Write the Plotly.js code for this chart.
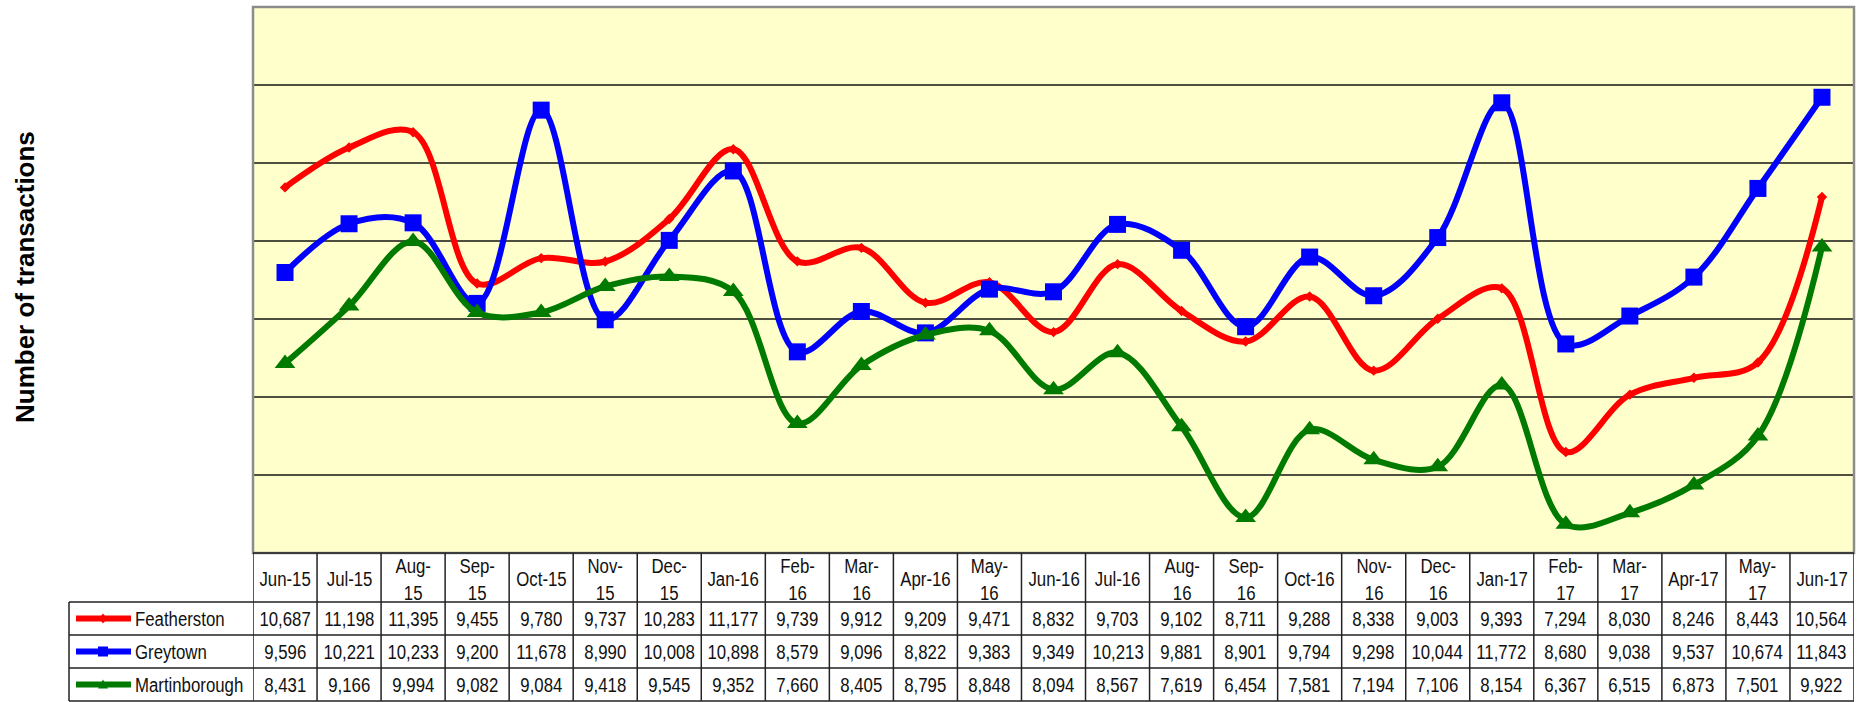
<!DOCTYPE html>
<html>
<head>
<meta charset="utf-8">
<script src="https://cdn.plot.ly/plotly-3.0.1.min.js"></script>
<style>html,body{margin:0;padding:0;background:#fff;}#chart{width:1861px;height:702px;}</style>
</head>
<body>
<div id="chart"></div>
<script>
// ---- data ----
const months = ["Jun-15","Jul-15","Aug-15","Sep-15","Oct-15","Nov-15","Dec-15","Jan-16","Feb-16","Mar-16","Apr-16","May-16","Jun-16","Jul-16","Aug-16","Sep-16","Oct-16","Nov-16","Dec-16","Jan-17","Feb-17","Mar-17","Apr-17","May-17","Jun-17"];
const headerLabels = ["Jun-15","Jul-15","Aug-<br>15","Sep-<br>15","Oct-15","Nov-<br>15","Dec-<br>15","Jan-16","Feb-<br>16","Mar-<br>16","Apr-16","May-<br>16","Jun-16","Jul-16","Aug-<br>16","Sep-<br>16","Oct-16","Nov-<br>16","Dec-<br>16","Jan-17","Feb-<br>17","Mar-<br>17","Apr-17","May-<br>17","Jun-17"];
const featherston = [10687,11198,11395,9455,9780,9737,10283,11177,9739,9912,9209,9471,8832,9703,9102,8711,9288,8338,9003,9393,7294,8030,8246,8443,10564];
const greytown = [9596,10221,10233,9200,11678,8990,10008,10898,8579,9096,8822,9383,9349,10213,9881,8901,9794,9298,10044,11772,8680,9038,9537,10674,11843];
const martinborough = [8431,9166,9994,9082,9084,9418,9545,9352,7660,8405,8795,8848,8094,8567,7619,6454,7581,7194,7106,8154,6367,6515,6873,7501,9922];
const seriesNames = ["Featherston","Greytown","Martinborough"];
const yTitle = "Number of transactions";

// ---- layout geometry (pixels) ----
const W = 1861, H = 702;
const L = 253, R = 1854, T = 7, B = 553;
const rowLines = [602, 635, 668, 701];
const legendLeft = 69;
const px = p => (p - L) / (R - L);
const py = p => (B - p) / (B - T);

const colors = ["#ff0000", "#0000ff", "#007a00"];
const symbols = ["diamond", "square", "triangle-up"];
const msizes = [8, 17, 18];
const allSeries = [featherston, greytown, martinborough];
const xIdx = months.map((m, i) => i);

const traces = allSeries.map((vals, s) => ({
  type: "scatter", mode: "lines+markers",
  x: xIdx, y: vals, name: seriesNames[s],
  line: {color: colors[s], width: 6, shape: "spline", smoothing: 1},
  marker: {color: colors[s], symbol: symbols[s], size: msizes[s]},
  hoverinfo: "skip", showlegend: false, cliponaxis: false
}));

const tfont = {family: "Liberation Sans, Arial, sans-serif", size: 21, color: "#111"};
const shapes = [];
const annotations = [];

// plot frame (grey top/left/right)
shapes.push({type: "rect", xref: "paper", yref: "paper", x0: 0, x1: 1, y0: 0, y1: 1, line: {color: "#8c8c8c", width: 2.5}, layer: "above"});

// table: vertical lines
for (let i = 0; i <= months.length; i++) {
  shapes.push({type: "line", xref: "x", yref: "paper", x0: i - 0.5, x1: i - 0.5, y0: 0, y1: py(rowLines[3]), line: {color: "#222", width: 1.5}});
}
shapes.push({type: "line", xref: "paper", yref: "paper", x0: px(legendLeft), x1: px(legendLeft), y0: py(rowLines[0]), y1: py(rowLines[3]), line: {color: "#222", width: 1.5}});
// horizontal lines
shapes.push({type: "line", xref: "paper", yref: "paper", x0: 0, x1: 1, y0: 0, y1: 0, line: {color: "#222", width: 1.5}});
rowLines.forEach(r => {
  shapes.push({type: "line", xref: "paper", yref: "paper", x0: px(legendLeft), x1: 1, y0: py(r), y1: py(r), line: {color: "#222", width: 1.5}});
});

// header labels
headerLabels.forEach((lab, i) => {
  annotations.push({xref: "x", yref: "paper", x: i, y: py((B + rowLines[0]) / 2 + 1), text: lab, showarrow: false, font: tfont, xanchor: "center", yanchor: "middle", align: "center"});
});
// values + legend keys
allSeries.forEach((vals, s) => {
  const yc = py((rowLines[s] + rowLines[s + 1]) / 2);
  vals.forEach((v, i) => {
    annotations.push({xref: "x", yref: "paper", x: i, y: yc, text: v.toLocaleString("en-US"), showarrow: false, font: tfont, xanchor: "center", yanchor: "middle"});
  });
  shapes.push({type: "line", xref: "paper", yref: "paper", x0: px(76), x1: px(131), y0: yc, y1: yc, line: {color: colors[s], width: 6}});
  const ax = px(103);
  if (s === 0) {
    shapes.push({type: "path", xref: "paper", yref: "paper", xsizemode: "pixel", ysizemode: "pixel", xanchor: ax, yanchor: yc,
      path: "M -4 0 L 0 5 L 4 0 L 0 -5 Z", fillcolor: colors[s], line: {width: 0}});
  } else if (s === 1) {
    shapes.push({type: "rect", xref: "paper", yref: "paper", xsizemode: "pixel", ysizemode: "pixel", xanchor: ax, yanchor: yc,
      x0: -5, x1: 5, y0: -5, y1: 5, fillcolor: colors[s], line: {width: 0}});
  } else {
    shapes.push({type: "path", xref: "paper", yref: "paper", xsizemode: "pixel", ysizemode: "pixel", xanchor: ax, yanchor: yc,
      path: "M -5 -4 L 5 -4 L 0 5 Z", fillcolor: colors[s], line: {width: 0}});
  }
  annotations.push({xref: "paper", yref: "paper", x: px(133), y: yc, text: seriesNames[s], showarrow: false, font: tfont, xanchor: "left", yanchor: "middle", align: "left"});
});

// y title
annotations.push({xref: "paper", yref: "paper", x: px(25), y: py(277), text: "<b>" + yTitle + "</b>", textangle: -90, showarrow: false,
  font: {family: "Liberation Sans, Arial, sans-serif", size: 26, color: "#000"}, xanchor: "center", yanchor: "middle"});

const layout = {
  width: W, height: H,
  margin: {l: L, r: W - R, t: T, b: H - B, pad: 0},
  paper_bgcolor: "#ffffff", plot_bgcolor: "#ffffcc",
  showlegend: false,
  xaxis: {range: [-0.5, months.length - 0.5], showgrid: false, zeroline: false, showticklabels: false, ticks: "", showline: false, fixedrange: true},
  yaxis: {range: [6000, 13000], dtick: 1000, tick0: 6000, showgrid: true, gridcolor: "#4f4f3f", gridwidth: 2, zeroline: false, showticklabels: false, ticks: "", showline: false, fixedrange: true},
  shapes: shapes, annotations: annotations
};

Plotly.newPlot("chart", traces, layout, {staticPlot: true, displayModeBar: false}).then(() => {
  // table text in the reference is a narrow face: compress horizontally
  document.querySelectorAll("#chart .annotation-text").forEach(t => {
    const txt = t.textContent;
    if (txt === yTitle) return;
    t.style.transformBox = "fill-box";
    t.style.transformOrigin = seriesNames.includes(txt) ? "left center" : "center center";
    t.style.transform = "scaleX(0.8)";
  });
});
</script>
</body>
</html>
